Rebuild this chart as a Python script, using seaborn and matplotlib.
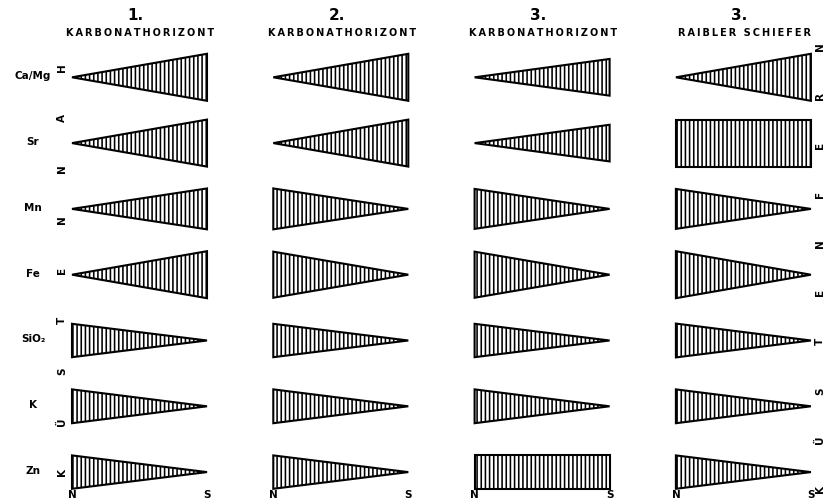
import numpy as np
import matplotlib
matplotlib.use("Agg")
import matplotlib.pyplot as plt
import seaborn as sns

# Relative content of each component at the northern (N) and southern (S)
# end of the profile, one pair of lists per horizon
elements = ["Ca/Mg", "Sr", "Mn", "Fe", "SiO\u2082", "K", "Zn"]
column_numbers = ["1.", "2.", "3.", "3."]
column_titles = ["KARBONATHORIZONT", "KARBONATHORIZONT",
                 "KARBONATHORIZONT", "RAIBLER SCHIEFER"]

north_1 = [0.00, 0.00, 0.00, 0.00, 0.71, 0.72, 0.71]
south_1 = [1.00, 1.00, 0.87, 1.00, 0.00, 0.00, 0.00]
north_2 = [0.00, 0.00, 0.87, 0.98, 0.71, 0.72, 0.71]
south_2 = [1.00, 1.00, 0.00, 0.00, 0.00, 0.00, 0.00]
north_3 = [0.00, 0.00, 0.85, 0.98, 0.71, 0.72, 0.71]
south_3 = [0.78, 0.78, 0.00, 0.00, 0.00, 0.00, 0.71]
north_4 = [0.00, 1.00, 0.85, 1.00, 0.72, 0.72, 0.71]
south_4 = [1.00, 1.00, 0.00, 0.00, 0.00, 0.00, 0.00]

north = [north_1, north_2, north_3, north_4]
south = [south_1, south_2, south_3, south_4]

left_word = "KÜSTENNAH"
right_word = "KÜSTENFERN"
end_labels = ["N", "S"]

sns.set_theme(style="white")
plt.rcParams["font.family"] = ["DejaVu Sans"]
plt.rcParams["text.color"] = "black"
plt.rcParams["hatch.linewidth"] = 1.15

W, H = 826, 504
fig = plt.figure(figsize=(W / 100, H / 100), dpi=100)
ax = fig.add_axes([0, 0, 1, 1])
ax.set_xlim(0, W)
ax.set_ylim(H, 0)
ax.axis("off")

# layout (in figure pixels)
x_start, col_step, bar_len = 72.0, 201.3, 135.0
y_start, row_step = 77.3, 65.8
unit = 47.0  # pixel height of a relative value of 1.0

def spaced(s):
    return "\u2009".join(s)

for c in range(len(column_titles)):
    x0 = x_start + c * col_step
    xs = np.array([x0, x0 + bar_len])
    xc = x0 + bar_len / 2
    for r in range(len(elements)):
        yc = y_start + r * row_step
        half = np.array([north[c][r], south[c][r]]) * unit / 2
        ax.fill_between(xs, yc - half, yc + half, facecolor="white",
                        edgecolor="black", hatch="||||", linewidth=1.5,
                        joinstyle="miter")
    ax.text(xc - 4, 15, column_numbers[c], ha="center", va="center",
            fontsize=11, fontweight="bold", color="black")
    ax.text(xc + 1, 33.5, spaced(column_titles[c]), ha="center", va="center",
            fontsize=7, fontweight="bold", color="black")
    for lab, xp in zip(end_labels, xs):
        ax.text(xp, 495, lab, ha="center", va="center",
                fontsize=7.5, fontweight="bold", color="black")

for r, el in enumerate(elements):
    ax.text(33, y_start + r * row_step - 1, el, ha="center", va="center",
            fontsize=7.5, fontweight="bold", color="black")

# coast-near / coast-far wording, spelled upward letter by letter
for word, xw, ytop, ybot in [(left_word, 62, 68, 472),
                             (right_word, 820, 47, 489)]:
    ys = np.linspace(ybot, ytop, len(word))
    for ch, yp in zip(word, ys):
        ax.text(xw, yp, ch, rotation=90, ha="center", va="center",
                fontsize=7.5, fontweight="bold", color="black")

fig.savefig("out.png", dpi=100, facecolor="white")
